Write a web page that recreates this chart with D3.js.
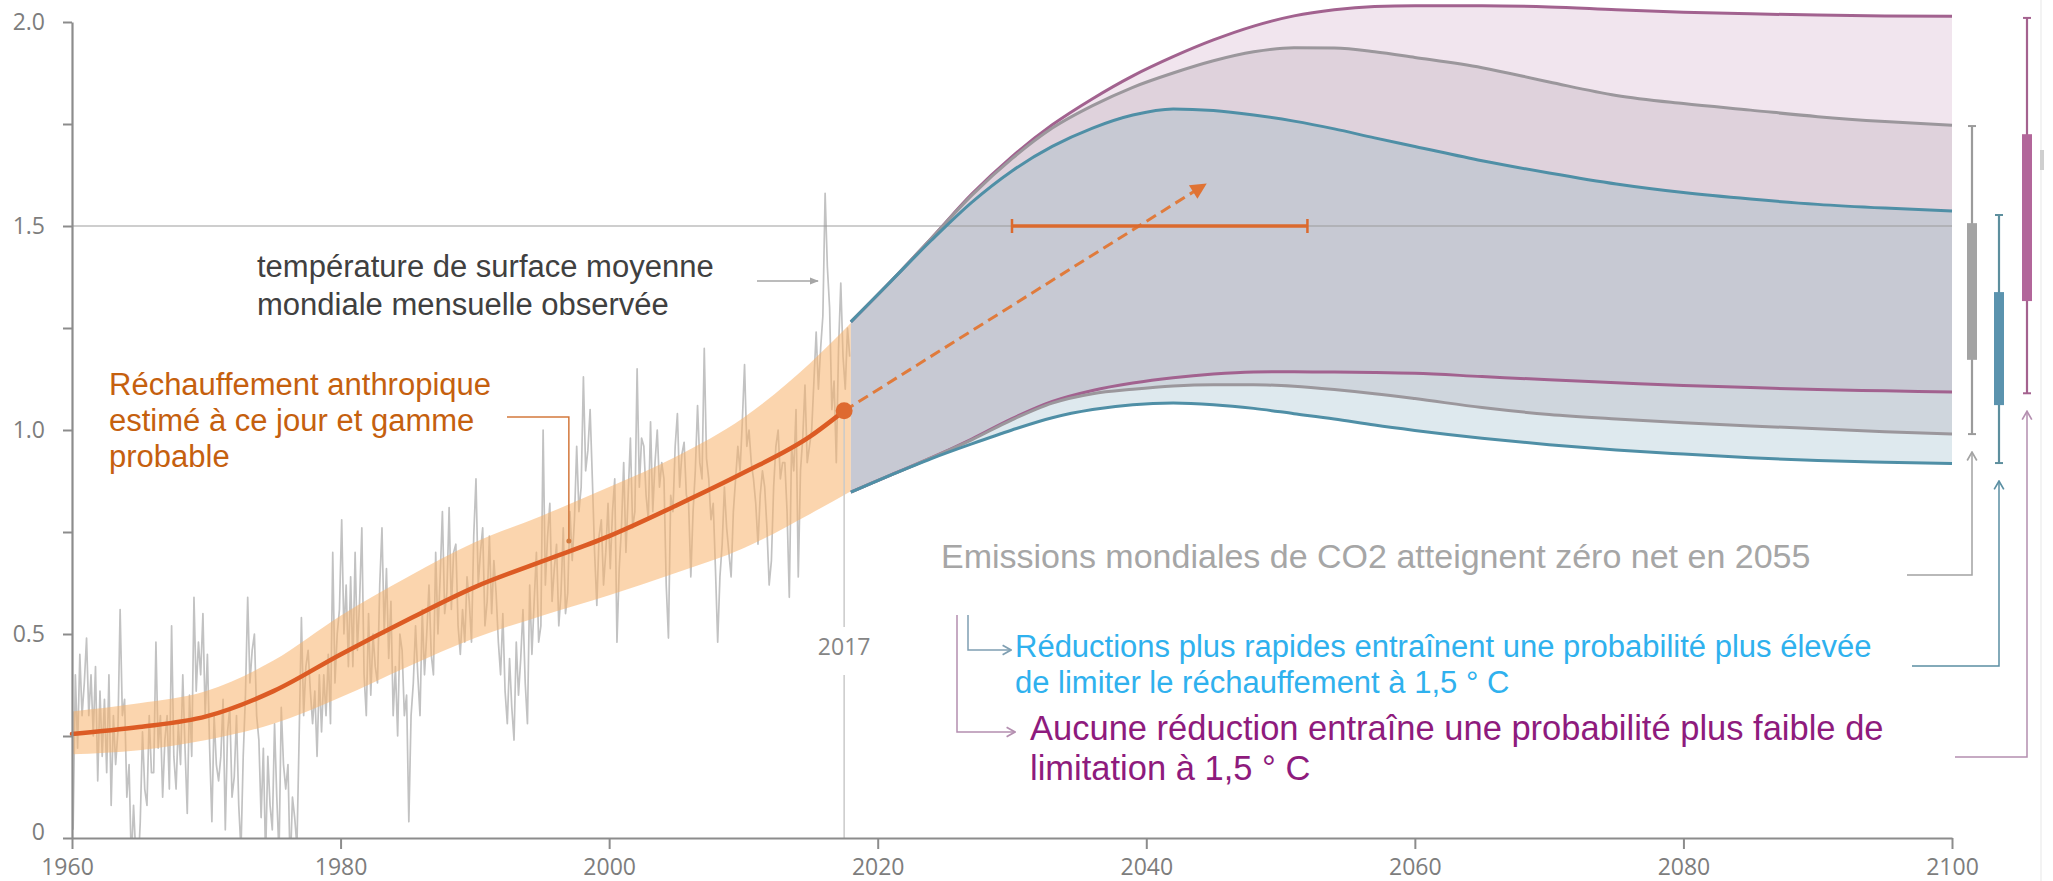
<!DOCTYPE html>
<html lang="fr">
<head>
<meta charset="utf-8">
<title>Réchauffement planétaire — trajectoires</title>
<script src="https://cdn.jsdelivr.net/npm/d3@7"></script>
<style>
  html, body { margin: 0; padding: 0; background: #fff; }
  svg { display: block; }
  .note { font-family: "Liberation Sans", Arial, sans-serif; }
</style>
</head>
<body>
<svg id="chart"></svg>
<script>
/* ============================================================
   DATA
   ============================================================ */
const X_TICKS = [1960, 1980, 2000, 2020, 2040, 2060, 2080, 2100];
const Y_TICKS = [0, 0.25, 0.5, 0.75, 1, 1.25, 1.5, 1.75, 2];
const Y_LABELS = { 0: '0', 0.5: '0.5', 1: '1.0', 1.5: '1.5', 2: '2.0' };

const OBS_START = 1960;
const OBS_PER_YEAR = 6;
const observed = [
  0.02, 0.40, 0.22, 0.45, 0.30, 0.38,    0.49, 0.30, 0.40, 0.25, 0.42, 0.14,
  0.36, 0.20, 0.34, 0.16, 0.40, 0.08,    0.30, 0.18, 0.26, 0.56, 0.30, 0.34,
  0.10, 0.18, -0.06, 0.08, -0.04, -0.08, 0.04, 0.26, 0.12, 0.08, 0.30, 0.16,
  0.16, 0.48, 0.22, 0.30, 0.10, 0.24,    0.30, 0.12, 0.52, 0.20, 0.12, 0.28,
  0.18, 0.40, 0.22, 0.06, 0.35, 0.20,    0.59, 0.36, 0.48, 0.40, 0.55, 0.30,
  0.45, 0.22, 0.04, 0.30, 0.18, 0.14,    0.20, 0.34, 0.02, 0.26, 0.32, 0.10,
  0.15, 0.30, 0.08, -0.03, 0.20, 0.35,   0.59, 0.38, 0.46, 0.50, 0.30, 0.24,
  0.05, 0.22, -0.05, 0.20, 0.08, 0.02,   0.28, 0.10, -0.04, 0.32, 0.18, 0.12,
  0.18, -0.08, 0.10, 0.05, -0.02, 0.25,  0.54, 0.30, 0.42, 0.46, 0.36, 0.28,
  0.36, 0.20, 0.40, 0.26, 0.40, 0.30,    0.45, 0.28, 0.70, 0.38, 0.50, 0.56,
  0.78, 0.50, 0.62, 0.42, 0.64, 0.42,    0.70, 0.46, 0.58, 0.76, 0.40, 0.30,
  0.55, 0.35, 0.50, 0.42, 0.38, 0.62,    0.76, 0.50, 0.66, 0.44, 0.58, 0.30,
  0.42, 0.25, 0.50, 0.46, 0.30, 0.35,    0.04, 0.30, 0.38, 0.52, 0.40, 0.30,
  0.56, 0.40, 0.50, 0.62, 0.45, 0.40,    0.70, 0.50, 0.64, 0.80, 0.55, 0.60,
  0.81, 0.56, 0.70, 0.72, 0.52, 0.45,    0.56, 0.48, 0.64, 0.58, 0.48, 0.74,
  0.88, 0.62, 0.70, 0.76, 0.52, 0.58,    0.74, 0.55, 0.68, 0.60, 0.48, 0.40,
  0.55, 0.36, 0.28, 0.44, 0.32, 0.24,    0.48, 0.35, 0.44, 0.56, 0.38, 0.28,
  0.62, 0.45, 0.58, 0.70, 0.48, 0.52,    1.00, 0.62, 0.74, 0.82, 0.58, 0.66,
  0.72, 0.52, 0.60, 0.76, 0.55, 0.60,    0.80, 0.68, 0.78, 0.96, 0.80, 0.86,
  1.13, 0.90, 0.95, 1.05, 0.88, 0.70,    0.57, 0.74, 0.78, 0.62, 0.70, 0.82,
  0.66, 0.80, 0.88, 0.48, 0.66, 0.76,    0.92, 0.70, 0.84, 0.98, 0.76, 0.80,
  1.15, 0.86, 0.98, 0.96, 0.84, 0.78,    1.02, 0.80, 0.92, 1.00, 0.86, 0.92,
  0.88, 0.62, 0.49, 0.84, 0.80, 0.96,    1.04, 0.86, 0.94, 0.97, 0.84, 0.82,
  0.64, 0.80, 0.90, 1.06, 0.92, 0.88,    1.20, 0.93, 0.88, 0.78, 0.82, 0.66,
  0.48, 0.64, 0.72, 0.86, 0.76, 0.70,    0.64, 0.80, 0.88, 0.96, 0.90, 1.02,
  1.16, 0.96, 1.00, 0.92, 0.88, 0.82,    0.72, 0.84, 0.90, 0.86, 0.76, 0.62,
  0.68, 0.86, 0.96, 1.00, 0.88, 0.92,    0.92, 0.80, 0.59, 0.96, 0.90, 1.05,
  0.64, 0.90, 0.98, 1.11, 0.92, 0.96,    1.00, 1.12, 1.24, 1.10, 1.20, 1.28,
  1.58, 1.40, 1.30, 1.05, 1.12, 0.92,    1.20, 1.36, 1.18, 1.10, 1.25, 1.18,
];

// estimated human-induced warming and likely range
const anthroYears = [1960, 1965, 1970, 1975, 1980, 1985, 1990, 1995, 2000, 2005, 2010, 2015, 2017.5];
const anthroMid   = [0.255, 0.272, 0.298, 0.36, 0.45, 0.535, 0.615, 0.678, 0.74, 0.815, 0.895, 0.985, 1.047];
const bandYears   = [1960, 1965, 1970, 1975, 1980, 1985, 1990, 1995, 2000, 2005, 2010, 2015, 2018];
const bandLow     = [0.205, 0.215, 0.24, 0.28, 0.345, 0.42, 0.49, 0.545, 0.595, 0.65, 0.71, 0.795, 0.85];
const bandHigh    = [0.31, 0.33, 0.36, 0.435, 0.545, 0.64, 0.725, 0.79, 0.86, 0.935, 1.03, 1.165, 1.262];
const NOW_YEAR = 2017.5;
const NOW_LABEL = '2017';

// projected ranges (three pathways)
const projYears  = [2018, 2021, 2024, 2027, 2030, 2033, 2036, 2039, 2042, 2045, 2048, 2051, 2054, 2057, 2060, 2065, 2070, 2075, 2080, 2085, 2090, 2095, 2100];
const purpleHigh = [1.265, 1.365, 1.47, 1.578, 1.67, 1.748, 1.812, 1.868, 1.915, 1.956, 1.99, 2.015, 2.03, 2.038, 2.04, 2.04, 2.037, 2.03, 2.024, 2.02, 2.017, 2.015, 2.014];
const greyHigh   = [1.265, 1.365, 1.47, 1.575, 1.665, 1.74, 1.795, 1.84, 1.875, 1.905, 1.927, 1.937, 1.936, 1.927, 1.913, 1.888, 1.853, 1.82, 1.80, 1.784, 1.768, 1.756, 1.747];
const tealHigh   = [1.265, 1.365, 1.465, 1.558, 1.635, 1.695, 1.74, 1.772, 1.787, 1.783, 1.772, 1.757, 1.738, 1.716, 1.695, 1.66, 1.63, 1.603, 1.582, 1.566, 1.553, 1.544, 1.537];
const purpleLow  = [0.848, 0.89, 0.932, 0.978, 1.028, 1.07, 1.097, 1.115, 1.128, 1.137, 1.142, 1.143, 1.142, 1.141, 1.139, 1.131, 1.123, 1.116, 1.109, 1.104, 1.099, 1.096, 1.093];
const greyLow    = [0.848, 0.89, 0.932, 0.976, 1.025, 1.066, 1.089, 1.10, 1.108, 1.111, 1.111, 1.107, 1.099, 1.089, 1.077, 1.055, 1.038, 1.027, 1.018, 1.01, 1.003, 0.996, 0.99];
const tealLow    = [0.848, 0.89, 0.93, 0.966, 1.0, 1.03, 1.05, 1.062, 1.066, 1.062, 1.053, 1.04, 1.027, 1.012, 0.999, 0.98, 0.964, 0.951, 0.941, 0.932, 0.925, 0.921, 0.918];

// 2100 ranges on the right (whiskers and boxes): grey, teal, purple
const boxKeys  = ['grey', 'teal', 'purple'];
const boxMin   = [0.99, 0.919, 1.09];
const boxQ1    = [1.172, 1.061, 1.316];
const boxQ3    = [1.507, 1.338, 1.725];
const boxMax   = [1.745, 1.527, 2.01];

// when 1.5 °C is reached (orange range) and the trend arrow
const crossFrom = 2030, crossTo = 2052, crossLevel = 1.5;
const trendEnd = [2044.3, 1.60];

/* ============================================================
   SETUP
   ============================================================ */
const W = 2053, H = 881;
const COLORS = {
  purple: '#a2628f', grey: '#9b979c', teal: '#4f8fa6',
  boxPurple: '#b2669a', boxGrey: '#a3a3a3', boxTeal: '#5b93ae',
  zoneA: '#f1e5ee', zoneB: '#dfd2dc', zoneC: '#c7c9d3', zoneD: '#cfd6dd', zoneE: '#dee9ee',
  orange: '#dc5b24', band: '#f7b26b', obs: '#c2c2c2', axis: '#8c8c8c',
};

const svg = d3.select('#chart').attr('width', W).attr('height', H);
svg.append('rect').attr('width', W).attr('height', H).attr('fill', '#fff');

const x = d3.scaleLinear().domain([1960, 2100]).range([72, 1952]);
const y = d3.scaleLinear().domain([0, 2]).range([838, 22]);

const defs = svg.append('defs');
defs.append('clipPath').attr('id', 'plot-clip')
  .append('rect').attr('x', x(1960)).attr('y', 0).attr('width', x(2100) - x(1960)).attr('height', y(0));

function chevron(id, color, size) {
  defs.append('marker').attr('id', id)
    .attr('viewBox', '0 0 10 10').attr('refX', 9).attr('refY', 5)
    .attr('markerWidth', size).attr('markerHeight', size)
    .attr('markerUnits', 'userSpaceOnUse').attr('orient', 'auto')
    .append('path').attr('d', 'M2,1 L9,5 L2,9')
    .attr('fill', 'none').attr('stroke', color).attr('stroke-width', 1.4);
}
chevron('chev-grey', '#a3a3a3', 12);
chevron('chev-teal', '#5b8fa3', 12);
chevron('chev-blue', '#7f9fb2', 12);
chevron('chev-purple', '#b48fb0', 12);
defs.append('marker').attr('id', 'tri-orange')
  .attr('viewBox', '0 0 10 10').attr('refX', 8).attr('refY', 5)
  .attr('markerWidth', 18).attr('markerHeight', 16)
  .attr('markerUnits', 'userSpaceOnUse').attr('orient', 'auto')
  .append('path').attr('d', 'M0,0 L10,5 L0,10 Z').attr('fill', '#e07334');
defs.append('marker').attr('id', 'tri-grey')
  .attr('viewBox', '0 0 10 10').attr('refX', 9).attr('refY', 5)
  .attr('markerWidth', 9).attr('markerHeight', 9)
  .attr('markerUnits', 'userSpaceOnUse').attr('orient', 'auto')
  .append('path').attr('d', 'M0,1 L10,5 L0,9 Z').attr('fill', '#a6a6a6');

/* ============================================================
   HISTORICAL: OBSERVED + HUMAN-INDUCED
   ============================================================ */
const obsPts = observed.map((v, i) => [OBS_START + (i + 0.5) / OBS_PER_YEAR, v]);
svg.append('path')
  .attr('clip-path', 'url(#plot-clip)')
  .attr('d', d3.line().x(d => x(d[0])).y(d => y(d[1]))(obsPts))
  .attr('fill', 'none').attr('stroke', COLORS.obs).attr('stroke-width', 1.7)
  .attr('stroke-linejoin', 'round');

const band = bandYears.map((yr, i) => ({ yr, lo: bandLow[i], hi: bandHigh[i] }));
svg.append('path')
  .attr('d', d3.area().curve(d3.curveMonotoneX)
    .x(d => x(d.yr)).y0(d => y(d.lo)).y1(d => y(d.hi))(band))
  .attr('fill', COLORS.band).attr('fill-opacity', 0.55);

/* ============================================================
   PROJECTIONS
   ============================================================ */
const proj = projYears.map((yr, i) => ({
  yr, pH: purpleHigh[i], gH: greyHigh[i], tH: tealHigh[i],
  pL: purpleLow[i], gL: greyLow[i], tL: tealLow[i],
}));
const zone = (k0, k1) => d3.area().curve(d3.curveMonotoneX)
  .x(d => x(d.yr)).y0(d => y(d[k0])).y1(d => y(d[k1]))(proj);

[['gH', 'pH', COLORS.zoneA], ['tH', 'gH', COLORS.zoneB], ['pL', 'tH', COLORS.zoneC],
 ['gL', 'pL', COLORS.zoneD], ['tL', 'gL', COLORS.zoneE]].forEach(([a, b, c]) => {
  svg.append('path').attr('d', zone(a, b)).attr('fill', c);
});

// 1.5 °C reference
svg.append('line')
  .attr('x1', x(1960)).attr('x2', x(2100)).attr('y1', y(1.5)).attr('y2', y(1.5))
  .attr('stroke', '#9a9a9a').attr('stroke-opacity', 0.65).attr('stroke-width', 1.6);

const projLine = k => d3.line().curve(d3.curveMonotoneX).x(d => x(d.yr)).y(d => y(d[k]))(proj);
[['pH', COLORS.purple], ['pL', COLORS.purple], ['gH', COLORS.grey], ['gL', COLORS.grey],
 ['tH', COLORS.teal], ['tL', COLORS.teal]].forEach(([k, c]) => {
  svg.append('path').attr('d', projLine(k))
    .attr('fill', 'none').attr('stroke', c).attr('stroke-width', 3);
});

/* ============================================================
   NOW MARKER, TREND ARROW, 1.5 °C CROSSING RANGE
   ============================================================ */
const nowY = y(anthroMid[anthroMid.length - 1]);
svg.append('line').attr('x1', x(NOW_YEAR)).attr('x2', x(NOW_YEAR))
  .attr('y1', nowY + 8).attr('y2', 627)
  .attr('stroke', '#c9c9c9').attr('stroke-width', 1.5);
svg.append('line').attr('x1', x(NOW_YEAR)).attr('x2', x(NOW_YEAR))
  .attr('y1', 675).attr('y2', y(0))
  .attr('stroke', '#c9c9c9').attr('stroke-width', 1.5);
svg.append('text')
  .attr('x', x(NOW_YEAR)).attr('y', 655).attr('text-anchor', 'middle')
  .attr('font-family', '"Open Sans", sans-serif').attr('font-size', '23px')
  .attr('fill', '#858585').text(NOW_LABEL);

const anthro = anthroYears.map((yr, i) => [yr, anthroMid[i]]);
svg.append('path')
  .attr('d', d3.line().curve(d3.curveMonotoneX).x(d => x(d[0])).y(d => y(d[1]))(anthro))
  .attr('fill', 'none').attr('stroke', COLORS.orange).attr('stroke-width', 4.5)
  .attr('stroke-linecap', 'round');

svg.append('line')
  .attr('x1', x(NOW_YEAR)).attr('y1', nowY)
  .attr('x2', x(trendEnd[0])).attr('y2', y(trendEnd[1]))
  .attr('stroke', '#e07b3c').attr('stroke-width', 3)
  .attr('stroke-dasharray', '11 6').attr('marker-end', 'url(#tri-orange)');

svg.append('circle').attr('cx', x(NOW_YEAR)).attr('cy', nowY).attr('r', 8.5)
  .attr('fill', '#de6a30');

svg.append('line')
  .attr('x1', x(crossFrom)).attr('x2', x(crossTo)).attr('y1', y(crossLevel)).attr('y2', y(crossLevel))
  .attr('stroke', '#db6a2e').attr('stroke-width', 3.5);
[crossFrom, crossTo].forEach(yr => {
  svg.append('line').attr('x1', x(yr)).attr('x2', x(yr))
    .attr('y1', y(crossLevel) - 7).attr('y2', y(crossLevel) + 7)
    .attr('stroke', '#db6a2e').attr('stroke-width', 2.5);
});

/* ============================================================
   AXES
   ============================================================ */
const yAxis = svg.append('g').attr('transform', `translate(${x(1960)},0)`)
  .call(d3.axisLeft(y).tickValues(Y_TICKS).tickSize(9).tickSizeOuter(0).tickPadding(18)
    .tickFormat(d => Y_LABELS[d] ?? ''));
const xAxis = svg.append('g').attr('transform', `translate(0,${y(0)})`)
  .call(d3.axisBottom(x).tickValues(X_TICKS).tickSize(11).tickSizeOuter(0).tickPadding(10)
    .tickFormat(d3.format('d')));
[yAxis, xAxis].forEach(g => {
  g.attr('font-family', '"Open Sans", sans-serif').attr('font-size', 23);
  g.select('.domain').attr('stroke', COLORS.axis).attr('stroke-width', 2.2);
  g.selectAll('.tick line').attr('stroke', COLORS.axis).attr('stroke-width', 2);
  g.selectAll('.tick text').attr('fill', '#7d7d7d');
});
yAxis.selectAll('.tick').filter(d => d === 0).select('text').attr('dy', '0.05em');
xAxis.selectAll('.tick').filter(d => d === 1960).select('text').attr('dx', -5);

/* ============================================================
   2100 RANGES
   ============================================================ */
const boxX = [x(2100) + 20, x(2100) + 47, x(2100) + 75];
const boxFill = [COLORS.boxGrey, COLORS.boxTeal, COLORS.boxPurple];
const whiskerCol = ['#9b9b9b', '#5d8f9e', '#a4628f'];
boxKeys.forEach((k, i) => {
  const g = svg.append('g').attr('class', `range-${k}`);
  g.append('line').attr('x1', boxX[i]).attr('x2', boxX[i])
    .attr('y1', y(boxMax[i])).attr('y2', y(boxMin[i]))
    .attr('stroke', whiskerCol[i]).attr('stroke-width', 2.2);
  [boxMin[i], boxMax[i]].forEach(v => {
    g.append('line').attr('x1', boxX[i] - 4).attr('x2', boxX[i] + 4)
      .attr('y1', y(v)).attr('y2', y(v))
      .attr('stroke', whiskerCol[i]).attr('stroke-width', 2);
  });
  g.append('rect').attr('x', boxX[i] - 5).attr('width', 10)
    .attr('y', y(boxQ3[i])).attr('height', y(boxQ1[i]) - y(boxQ3[i]))
    .attr('fill', boxFill[i]);
});

// faint frame edge at the far right
svg.append('line').attr('x1', 2041).attr('x2', 2041).attr('y1', 0).attr('y2', H)
  .attr('stroke', '#efefef').attr('stroke-width', 1.5);
svg.append('rect').attr('x', 2040).attr('y', 150).attr('width', 4).attr('height', 20).attr('fill', '#cfcfcf');

/* ============================================================
   ANNOTATIONS
   ============================================================ */
function note(lines, px, py, lh, size, color) {
  const t = svg.append('text').attr('class', 'note')
    .attr('font-size', size + 'px').attr('fill', color);
  lines.forEach((s, i) => t.append('tspan').attr('x', px).attr('y', py + i * lh).text(s));
}

note(['température de surface moyenne', 'mondiale mensuelle observée'], 257, 277, 38, 31, '#404040');
svg.append('path').attr('d', 'M757,281 H818')
  .attr('fill', 'none').attr('stroke', '#a6a6a6').attr('stroke-width', 1.5)
  .attr('marker-end', 'url(#tri-grey)');

note(['Réchauffement anthropique', 'estimé à ce jour et gamme', 'probable'], 109, 395, 36, 31, '#c5600e');
svg.append('path').attr('d', `M507,417 H${x(1997)} V540`)
  .attr('fill', 'none').attr('stroke', '#d3793d').attr('stroke-width', 1.5);
svg.append('circle').attr('cx', x(1997)).attr('cy', 541).attr('r', 2.5).attr('fill', '#d3793d');

note(['Emissions mondiales de CO2 atteignent zéro net en 2055'], 941, 568, 40, 34, '#a6a6a6');
note(['Réductions plus rapides entraînent une probabilité plus élevée',
      'de limiter le réchauffement à 1,5 ° C'], 1015, 657, 36, 31, '#2fb1ee');
note(['Aucune réduction entraîne une probabilité plus faible de',
      'limitation à 1,5 ° C'], 1030, 740, 40, 34.5, '#8e1b7d');

// left connectors
svg.append('path').attr('d', 'M968,615 V650 H1011')
  .attr('fill', 'none').attr('stroke', '#7f9fb2').attr('stroke-width', 1.5)
  .attr('marker-end', 'url(#chev-blue)');
svg.append('path').attr('d', 'M957,615 V732 H1015')
  .attr('fill', 'none').attr('stroke', '#b48fb0').attr('stroke-width', 1.5)
  .attr('marker-end', 'url(#chev-purple)');

// right connectors up to the 2100 ranges
const connY = [575, 666, 757];
const connX0 = [1907, 1912, 1955];
const connCol = ['#a3a3a3', '#5b8fa3', '#b48fb0'];
const connMarker = ['chev-grey', 'chev-teal', 'chev-purple'];
boxKeys.forEach((k, i) => {
  svg.append('path').attr('d', `M${connX0[i]},${connY[i]} H${boxX[i]} V${y(boxMin[i]) + 18}`)
    .attr('fill', 'none').attr('stroke', connCol[i]).attr('stroke-width', 1.5)
    .attr('marker-end', `url(#${connMarker[i]})`);
});
</script>
</body>
</html>
